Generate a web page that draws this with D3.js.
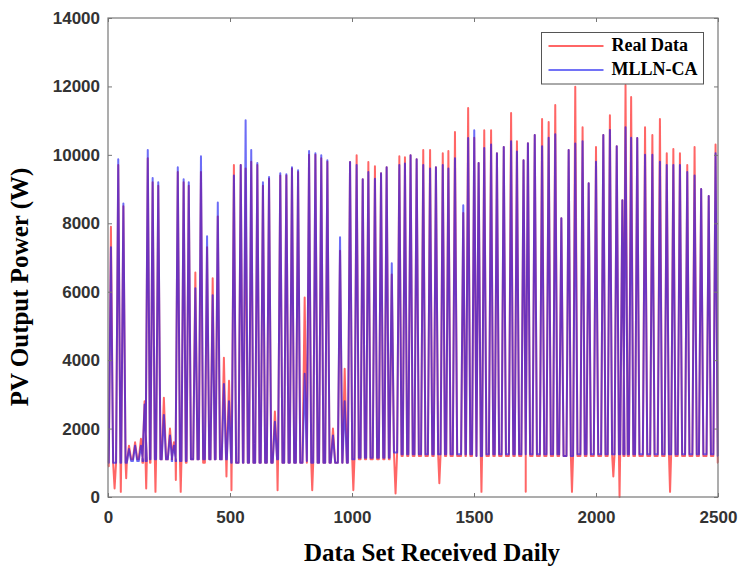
<!DOCTYPE html>
<meta charset="utf-8">
<style>
body { margin: 0; background: #fff; }
.tick text { font-family: "Liberation Sans", Arial, sans-serif; font-size: 17px; font-weight: bold; fill: #333; }
.tick line { stroke: #777; }
.label { font-family: "Liberation Serif", "Times New Roman", serif; font-weight: bold; fill: #000; }
.line-real { fill: none; stroke: #ff0000; stroke-width: 2px; stroke-opacity: 0.6; stroke-linejoin: round; }
.line-pred { fill: none; stroke: #1414f0; stroke-width: 2px; stroke-opacity: 0.62; stroke-linejoin: round; }
</style>
<body>
<script src="https://d3js.org/d3.v7.min.js"></script>
<script>
// one entry per daily spike (hour index of the peak)
var peakHour = [12, 42, 63, 86, 111, 135, 150, 163, 183, 206, 229, 254, 270, 286, 310, 331, 358, 381, 406, 429,
    450, 475, 496, 516, 544, 564, 587, 612, 635, 660, 684, 706, 731, 754, 779, 806, 824, 850, 874, 899,
    922, 951, 970, 992, 1019, 1044, 1067, 1094, 1119, 1142, 1163, 1194, 1217, 1240, 1265, 1292, 1320, 1344, 1372, 1395,
    1422, 1456, 1476, 1501, 1519, 1542, 1570, 1594, 1622, 1652, 1676, 1703, 1721, 1749, 1779, 1806, 1833, 1858, 1888, 1915,
    1945, 1970, 2000, 2030, 2057, 2085, 2108, 2121, 2144, 2169, 2201, 2231, 2262, 2290, 2317, 2344, 2374, 2404, 2431, 2462,
    2490];

var realPeak = [7900, 9700, 8500, 1500, 1600, 1700, 2800, 9900, 9200, 9100, 2900, 2000, 1600, 9500, 9200, 9100, 6560, 9500, 7300, 6390,
    8200, 4070, 3400, 9700, 9700, 9600, 9800, 9700, 9100, 9300, 2500, 9400, 9400, 9600, 9500, 5830, 10000, 10000, 9900, 9800,
    2000, 7200, 3750, 9790, 9990, 9290, 9790, 9670, 9460, 9640, 6500, 9960, 9930, 9990, 9870, 10140, 10140, 9640, 10050, 10110,
    10670, 8300, 11370, 10500, 9760, 10720, 10720, 10050, 10230, 11220, 10400, 9840, 10340, 10580, 11050, 10960, 11460, 8150, 10140, 11990,
    10810, 9170, 10230, 10580, 11160, 10250, 8670, 12040, 11690, 10490, 10810, 10580, 11050, 10050, 10170, 10050, 9700, 10230, 9000, 8800,
    10300];

var predPeak = [7300, 9870, 8580, 1400, 1500, 1500, 2700, 10140, 9320, 9200, 2400, 1800, 1500, 9640, 9290, 9200, 6100, 9960, 7620, 5900,
    8610, 3300, 2800, 9400, 9700, 11010, 10140, 9760, 9200, 9350, 2200, 9460, 9430, 9640, 9550, 3600, 10110, 10050, 9990, 9840,
    1800, 7590, 2800, 9790, 9700, 9290, 9500, 9300, 9460, 9640, 6830, 9700, 9750, 9990, 9870, 9700, 9600, 9640, 9700, 9600,
    9900, 8530, 10490, 10720, 9760, 10200, 10300, 10050, 10230, 10400, 10100, 9840, 10340, 10580, 10250, 10500, 10600, 8150, 10140, 10330,
    10400, 9170, 9800, 10580, 10730, 10250, 8670, 10810, 10500, 10490, 10000, 10000, 9800, 9700, 9700, 9700, 9500, 9400, 9000, 8800,
    10050];

// lowest night value after each spike (real data sometimes drops near zero)
var realLow = [250, 150, 550, 1100, 1100, 1000, 250, 1000, 150, 1100, 1100, 1100, 500, 150, 1000, 1100, 1100, 1000, 1100, 1100,
    1100, 600, 200, 1000, 1000, 1000, 1000, 1000, 1000, 1000, 200, 1000, 1000, 1000, 1000, 1000, 200, 1000, 1000, 1000,
    1000, 1000, 1000, 200, 1100, 1100, 1100, 1100, 1100, 1100, 100, 1200, 1200, 1200, 1200, 1200, 1200, 400, 1200, 1200,
    1200, 1200, 1200, 1200, 150, 1200, 1200, 1200, 1200, 1200, 1200, 150, 1200, 1200, 1200, 1200, 1200, 1200, 150, 1200,
    1200, 1200, 1200, 1200, 600, 0, 1200, 1200, 1200, 1200, 1200, 1200, 1200, 150, 1200, 1200, 1200, 1200, 1200, 1200,
    1000];

// night level after each spike for the model
var predLow = [1000, 1000, 1000, 1050, 1050, 1050, 1050, 1100, 1100, 1100, 1100, 1050, 1050, 1050, 1050, 1100, 1100, 1100, 1100, 1100,
    1100, 1100, 1000, 1000, 1000, 1000, 1000, 1000, 1000, 1000, 1100, 1000, 1000, 1000, 1000, 1050, 1000, 1000, 1000, 1000,
    1000, 1000, 1000, 1100, 1150, 1150, 1150, 1150, 1150, 1150, 1300, 1250, 1250, 1250, 1250, 1250, 1250, 1250, 1250, 1250,
    1250, 1250, 1250, 1200, 1200, 1250, 1250, 1250, 1250, 1250, 1250, 1250, 1250, 1250, 1250, 1250, 1250, 1200, 1200, 1250,
    1250, 1250, 1250, 1250, 1250, 1250, 1250, 1250, 1250, 1250, 1250, 1250, 1250, 1250, 1250, 1250, 1250, 1250, 1250, 1250,
    1200];

var realStart = 900, predStart = 1000;
var xTicks = [0, 500, 1000, 1500, 2000, 2500];
var yTicks = [0, 2000, 4000, 6000, 8000, 10000, 12000, 14000];
var seriesNames = ["Real Data", "MLLN-CA"];

var margin = { top: 18, right: 20, bottom: 70, left: 108 },
    width = 738 - margin.left - margin.right,
    height = 567 - margin.top - margin.bottom;

var x = d3.scaleLinear().domain([0, 2500]).range([0, width]);
var y = d3.scaleLinear().domain([0, 14000]).range([height, 0]);

var svg = d3.select("body").append("svg")
    .attr("width", 738)
    .attr("height", 567);

var g = svg.append("g")
    .attr("transform", "translate(" + margin.left + "," + margin.top + ")");

// rise, peak, fall, then night; a deep night value shows as a short dip
var halfWidth = 9;
function buildSeries(peaks, lows, start) {
    var pts = [[0, start]];
    var prev = start;
    peakHour.forEach(function(h, i) {
        var next = i < peakHour.length - 1 ? peakHour[i + 1] : 2500 + halfWidth;
        var plateau = lows[i] < 900 ? predLow[i] : lows[i];
        pts.push([h - halfWidth, prev]);
        pts.push([h, peaks[i]]);
        pts.push([h + halfWidth, plateau]);
        if (plateau !== lows[i]) {
            pts.push([(h + next) / 2, lows[i]]);
            pts.push([next - halfWidth, plateau]);
        }
        prev = plateau;
    });
    pts.push([2500, prev]);
    return pts.filter(function(p) { return p[0] >= 0 && p[0] <= 2500; });
}

var line = d3.line()
    .x(function(d) { return x(d[0]); })
    .y(function(d) { return y(d[1]); });

g.append("path")
    .datum(buildSeries(realPeak, realLow, realStart))
    .attr("class", "line-real")
    .attr("d", line);

g.append("path")
    .datum(buildSeries(predPeak, predLow, predStart))
    .attr("class", "line-pred")
    .attr("d", line);

// axes with inward ticks
var fmt = d3.format("d");
g.append("g")
    .attr("transform", "translate(0," + height + ")")
    .call(d3.axisBottom(x).tickValues(xTicks).tickFormat(fmt).tickSize(-4).tickPadding(14))
    .call(function(s) { s.select(".domain").remove(); });

g.append("g")
    .call(d3.axisLeft(y).tickValues(yTicks).tickFormat(fmt).tickSize(-4).tickPadding(8))
    .call(function(s) { s.select(".domain").remove(); });

g.append("g")
    .call(d3.axisTop(x).tickValues(xTicks).tickSize(-4).tickFormat(""))
    .call(function(s) { s.select(".domain").remove(); });

g.append("g")
    .attr("transform", "translate(" + width + ",0)")
    .call(d3.axisRight(y).tickValues(yTicks).tickSize(-4).tickFormat(""))
    .call(function(s) { s.select(".domain").remove(); });

g.append("rect")
    .attr("width", width)
    .attr("height", height)
    .attr("fill", "none")
    .attr("stroke", "#777")
    .attr("stroke-width", 1.2);

// legend
var legend = svg.append("g").attr("transform", "translate(541.5,32.5)");
legend.append("rect")
    .attr("width", 162)
    .attr("height", 51.5)
    .attr("fill", "#fff")
    .attr("stroke", "#555");

var legendColors = ["#ff0000", "#1414f0"];
seriesNames.forEach(function(name, i) {
    legend.append("line")
        .attr("x1", 7).attr("x2", 62)
        .attr("y1", 13.5 + i * 24).attr("y2", 13.5 + i * 24)
        .attr("stroke", legendColors[i])
        .attr("stroke-opacity", 0.6)
        .attr("stroke-width", 2);
    legend.append("text")
        .attr("class", "label")
        .attr("x", 70)
        .attr("y", 18.5 + i * 23.5)
        .style("font-size", "18px")
        .text(name);
});

// axis titles
svg.append("text")
    .attr("class", "label")
    .attr("text-anchor", "middle")
    .attr("transform", "translate(432,561)")
    .style("font-size", "25px")
    .text("Data Set Received Daily");

svg.append("text")
    .attr("class", "label")
    .attr("text-anchor", "middle")
    .attr("transform", "translate(28,287) rotate(-90)")
    .style("font-size", "25px")
    .text("PV Output Power (W)");
</script>
</body>
